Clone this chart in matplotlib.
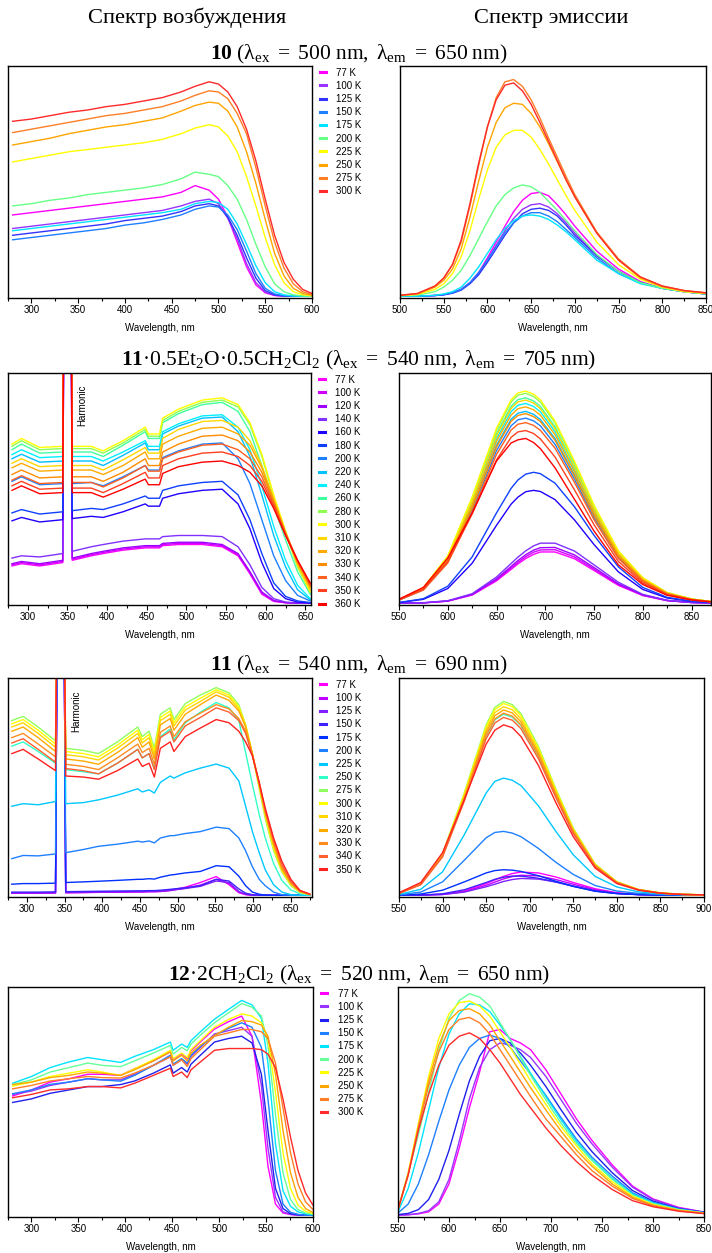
import matplotlib
matplotlib.use('Agg')
import matplotlib.pyplot as plt
from matplotlib.lines import Line2D

plt.rcParams['font.family'] = ['Liberation Sans', 'DejaVu Sans']
plt.rcParams['mathtext.fontset'] = 'custom'
plt.rcParams['mathtext.rm'] = 'Liberation Serif'
plt.rcParams['mathtext.it'] = 'Liberation Serif:italic'
plt.rcParams['mathtext.bf'] = 'Liberation Serif:bold'

# ---------------- labels ----------------
T10 = ['77 K', '100 K', '125 K', '150 K', '175 K', '200 K', '225 K', '250 K', '275 K', '300 K']
T11b = ['77 K', '100 K', '120 K', '140 K', '160 K', '180 K', '200 K', '220 K', '240 K', '260 K',
        '280 K', '300 K', '310 K', '320 K', '330 K', '340 K', '350 K', '360 K']
T11 = ['77 K', '100 K', '125 K', '150 K', '175 K', '200 K', '225 K', '250 K', '275 K', '300 K',
       '310 K', '320 K', '330 K', '340 K', '350 K']
T12 = ['77 K', '100 K', '125 K', '150 K', '175 K', '200 K', '225 K', '250 K', '275 K', '300 K']

titles = [r"$\mathbf{10}\ \mathrm{(λ_{ex}\ {=}\ 500\ nm,\ λ_{em}\ {=}\ 650\ nm)}$",
          r"$\mathbf{11}\mathrm{·0.5Et_2O·0.5CH_2Cl_2\ (λ_{ex}\ {=}\ 540\ nm,\ λ_{em}\ {=}\ 705\ nm)}$",
          r"$\mathbf{11}\ \mathrm{(λ_{ex}\ {=}\ 540\ nm,\ λ_{em}\ {=}\ 690\ nm)}$",
          r"$\mathbf{12}\mathrm{·2CH_2Cl_2\ (λ_{ex}\ {=}\ 520\ nm,\ λ_{em}\ {=}\ 650\ nm)}$"]

# ---------------- row 1: compound 10 ----------------
ex10_wl = [280, 300, 320, 340, 360, 380, 400, 420, 440, 460, 475, 490, 500, 510, 520, 530, 540, 550, 560, 570, 580, 590, 600]
ex10 = [
    [36, 37, 38, 39, 40, 41, 42, 43, 44, 46, 49, 47, 43, 35, 24, 13, 5, 1.5, 0.3, 0, 0, 0, 0],
    [30, 31, 32, 33, 34, 35, 36, 37, 38, 40, 42, 43, 41, 34.5, 25.5, 14.5, 6, 1.8, 0.4, 0, 0, 0, 0],
    [27, 28, 29, 30, 31, 32, 33.5, 34.5, 35.5, 37.5, 40, 41, 40, 35, 27, 17, 8, 2.5, 0.6, 0.1, 0, 0, 0],
    [25, 26, 27, 28, 29, 30, 31.5, 32.5, 34, 36, 38.5, 40, 39.5, 36, 29.5, 20, 10, 3.5, 1, 0.2, 0, 0, 0],
    [29, 30, 31, 32, 33, 34, 35, 36, 37, 38.5, 41, 42, 41.5, 38.5, 32, 23, 13.5, 6, 2, 0.6, 0.1, 0, 0],
    [40, 41, 42.5, 43.5, 45, 46, 47, 48, 49.5, 52, 55, 54, 53, 49, 43, 34, 23, 13, 5.5, 2, 0.6, 0.1, 0],
    [59.5, 61, 62.5, 64, 65, 66, 67, 68, 69.5, 72, 74.5, 76, 75, 71, 64, 53, 40, 26, 14, 6, 2, 0.6, 0.2],
    [67, 68.5, 70, 72, 73.5, 75, 76, 77.5, 79, 82, 84.5, 86, 85.5, 82, 75, 64, 50, 34, 19, 9, 3.5, 1.2, 0.4],
    [72.5, 74, 75.5, 77, 78.5, 80, 81, 82.5, 84, 86.5, 89, 91, 90.5, 87.5, 81, 72, 57, 40, 24, 12.5, 5.5, 2, 0.7],
    [77.5, 78.5, 80, 81.5, 82.5, 84, 85, 86.5, 88, 90.5, 93, 95, 94, 90.5, 84, 74, 60, 43, 27, 15, 7.5, 3, 1.2],
]
em10_wl = [500, 520, 540, 550, 560, 570, 580, 590, 600, 610, 620, 630, 640, 650, 660, 670, 680, 690, 700,
           725, 750, 775, 800, 825, 850]
em10 = [
    [0, 0, 0.3, 0.7, 1.5, 3, 6, 10.5, 17, 24, 31, 37.5, 42.5, 45.5, 46, 44.5, 40.5, 36, 31, 20, 12, 6.5, 3.5, 2, 1],
    [0, 0, 0.3, 0.7, 1.5, 3, 6, 10, 16, 22.5, 29, 34.5, 38.5, 40.5, 41, 39.5, 36.5, 32.5, 28, 18, 11, 6, 3.5, 2, 1],
    [0, 0, 0.3, 0.6, 1.3, 2.7, 5.5, 9.5, 15, 21, 27, 32.5, 36.5, 38.5, 39, 38, 35.5, 31.5, 27, 18, 11, 6, 3.5, 2, 1],
    [0, 0, 0.3, 0.7, 1.5, 3, 6, 10.5, 16, 22, 28, 32.5, 35.5, 37, 37, 35.5, 33, 29.5, 26, 17, 10, 6, 3.5, 2, 1],
    [0, 0, 0.4, 1, 2, 4, 8, 13, 19, 25, 30, 33.5, 35.5, 36, 35.5, 34, 31.5, 28.5, 25, 16, 10, 5.5, 3.5, 2, 1],
    [0.2, 0.5, 2, 4, 7, 11.5, 18, 25.5, 33, 40, 45, 48, 49.3, 48.5, 46, 42, 38, 33.5, 29, 18.5, 11, 6, 3.5, 2, 1],
    [0.3, 0.8, 3, 5.5, 10, 17.5, 29, 43, 56, 66, 71.5, 73.5, 73.5, 70.5, 65, 58.5, 51.5, 44.5, 38, 24, 14, 7.5, 4, 2, 1.2],
    [0.3, 1, 4, 7, 12, 21, 35, 51, 66, 77, 83.5, 85.5, 85, 81, 75, 67.5, 59.5, 51.5, 44, 28, 16, 8, 4.2, 2.3, 1.3],
    [0.4, 1.2, 4.5, 8, 14, 24, 40, 58, 75, 88, 95, 96, 93, 87, 79, 70, 61.5, 53, 45, 28.5, 16.5, 8.5, 4.5, 2.5, 1.5],
    [0.4, 1.2, 4.5, 8, 14, 25, 41, 59, 75, 87, 93.5, 94.5, 91, 85, 77, 68.5, 60, 51.5, 44, 28, 16, 8.5, 4.5, 2.5, 1.5],
]

# ---------------- row 2: 11*0.5Et2O*0.5CH2Cl2 ----------------
ex11b_wl = [280, 292, 315, 344, 345.5, 354.5, 356, 380, 395, 420, 448, 452, 466, 470, 490, 520, 545,
            565, 580, 595, 610, 625, 640, 656]
ex11b = [
    [16.5, 17.5, 16.5, 18, 150, 150, 19, 21, 22, 23.5, 24.5, 24.5, 24.5, 25.5, 26, 26, 25, 21, 13, 4, 0.8, 0.2, 0, 0],
    [17, 18, 17, 18.5, 150, 150, 19.5, 21.5, 22.5, 24, 25, 25, 25, 26, 26.5, 26.5, 25.5, 21.5, 13.5, 4.5, 1, 0.2, 0, 0],
    [17.5, 18.5, 17.5, 19, 150, 150, 20, 22, 23, 24.5, 25.5, 25.5, 25.5, 26.5, 27, 27, 26, 22, 14, 5, 1.2, 0.3, 0, 0],
    [20, 21, 20.5, 22, 150, 150, 23, 25, 26, 27.5, 28.5, 28.5, 28.5, 29.5, 30, 30, 29.5, 25, 17, 7, 2, 0.5, 0.1, 0],
    [36.5, 38, 36, 37, 150, 150, 37.5, 38.5, 38, 40.5, 44, 43, 43, 46.5, 48.5, 50, 50.5, 44, 33, 18, 6.5, 2, 0.5, 0.1],
    [40, 41.5, 39.5, 40.5, 150, 150, 41, 42, 41.5, 44, 47.5, 46.5, 46.5, 50, 52, 53.5, 54, 48, 37, 22, 9, 3, 1, 0.3],
    [54, 56, 52.5, 53, 150, 150, 53, 53.5, 52, 56, 61, 59, 59, 64.5, 67.5, 70.5, 71, 64, 53, 37, 21, 10, 3.5, 1],
    [64, 66, 62.5, 63, 150, 150, 63, 63, 61, 65.5, 71, 68, 68, 75, 78.5, 82, 82.5, 76, 65, 48, 30, 16, 6, 1.5],
    [65.8, 68, 64.5, 65, 150, 150, 65, 65, 63, 67, 72, 69.5, 69.5, 76, 79.5, 83, 83.5, 78, 68, 52, 34, 19, 8, 2],
    [68, 70.5, 66.5, 67, 150, 150, 67, 67, 65, 70, 76, 73, 73, 80, 84, 88, 89, 85, 76, 61, 43, 28, 14, 4],
    [69.5, 72, 68, 68.5, 150, 150, 68.5, 68.5, 66.5, 71, 77, 74, 74, 81, 85, 89, 90, 87, 79, 65, 47, 31, 16, 5],
    [70.5, 73, 69, 69.5, 150, 150, 69.5, 69.5, 67.5, 72, 78, 75, 75, 82, 86, 90, 91, 88, 80, 66, 48, 32, 17, 5],
    [62, 64, 60.5, 61, 150, 150, 61, 61, 59, 63.5, 69, 66.5, 66.5, 73, 77, 80.5, 81, 78, 72, 61, 46, 31, 17, 6],
    [60, 62, 58.5, 59, 150, 150, 59, 59, 57, 61, 67, 64, 64, 70.5, 74, 77.5, 78, 75, 70, 60, 46, 31, 18, 7],
    [57, 59, 55.5, 56, 150, 150, 56, 56, 54, 58, 64, 61, 61, 67, 70.5, 74, 74.5, 72, 67, 58, 45, 31, 18, 7.5],
    [54.5, 56.5, 53, 53.5, 150, 150, 53.5, 53.5, 51.5, 55.5, 61, 58.5, 58.5, 64, 67, 70, 70.5, 68, 64, 56, 44, 31, 19, 8],
    [52, 54, 50.5, 51, 150, 150, 51, 51, 49, 53, 58, 55.5, 55.5, 61, 64, 66.5, 67, 65, 61, 54, 43, 30, 19, 8.5],
    [50, 52, 48.5, 49, 150, 150, 49, 49, 47, 50.5, 55, 52.5, 52.5, 57.5, 60.5, 62.5, 63, 61, 58, 52, 42, 30, 19, 9],
]
em11b_wl = [550, 575, 600, 625, 650, 665, 672, 680, 688, 695, 710, 730, 750, 775, 800, 825, 850, 870]
em11b = [
    [0, 0.14, 0.9, 3.6, 9.9, 15, 17.4, 19.8, 21.6, 22.7, 22.7, 19.7, 14.5, 7.9, 3.4, 1.1, 0.3, 0.1],
    [0, 0.14, 0.9, 3.8, 10.3, 15.6, 18.1, 20.6, 22.6, 23.6, 23.7, 20.5, 15.1, 8.3, 3.5, 1.2, 0.3, 0.1],
    [0, 0.15, 1, 3.9, 10.8, 16.3, 18.9, 21.5, 23.5, 24.6, 24.7, 21.4, 15.8, 8.6, 3.7, 1.2, 0.3, 0.1],
    [0, 0.2, 1.1, 4.2, 11.6, 17.6, 20.4, 23.2, 25.4, 26.6, 26.6, 23.1, 17, 9.3, 3.9, 1.3, 0.3, 0.1],
    [0.3, 1.7, 6.5, 17.7, 34.5, 43.9, 47, 49.4, 50, 49.5, 45.9, 36.9, 26, 13.9, 6.1, 2.3, 0.8, 0.3],
    [0.3, 2, 7.5, 20.5, 40, 50.9, 54.6, 57.2, 58, 57.4, 53.2, 42.7, 30.1, 16.1, 7, 2.6, 0.9, 0.3],
    [1.4, 6, 18.3, 41, 67.6, 78.6, 81.3, 82, 80.8, 78.6, 70.4, 54.9, 38, 20.3, 9.8, 4.1, 1.6, 0.7],
    [1.4, 6.2, 19, 42.5, 70, 81.5, 84.2, 85, 83.7, 81.4, 73, 56.9, 39.4, 21, 10.2, 4.3, 1.7, 0.7],
    [1.5, 6.5, 19.7, 44.3, 72.9, 84.9, 87.7, 88.5, 87.2, 84.8, 76, 59.2, 41, 21.9, 10.6, 4.4, 1.8, 0.7],
    [1.5, 6.6, 20.3, 45.5, 75, 87.3, 90.2, 91, 89.6, 87.2, 78.2, 60.9, 42.1, 22.5, 10.9, 4.6, 1.8, 0.7],
    [1.6, 6.8, 20.7, 46.5, 76.6, 89.2, 92.2, 93, 91.6, 89.1, 79.9, 62.2, 43.1, 23, 11.2, 4.7, 1.9, 0.7],
    [1.6, 6.9, 21, 47, 77.5, 90.1, 93.2, 94, 92.6, 90.1, 80.7, 62.9, 43.5, 23.2, 11.3, 4.7, 1.9, 0.8],
    [1.5, 6.6, 20.1, 45, 74.2, 86.3, 89.2, 90, 88.7, 86.2, 77.3, 60.2, 41.7, 22.2, 10.8, 4.5, 1.8, 0.7],
    [1.5, 6.4, 19.4, 43.5, 71.7, 83.4, 86.2, 87, 85.7, 83.3, 74.7, 58.2, 40.3, 21.5, 10.4, 4.4, 1.7, 0.7],
    [1.4, 6.1, 18.7, 42, 69.2, 80.6, 83.2, 84, 82.7, 80.5, 72.2, 56.2, 38.9, 20.7, 10.1, 4.2, 1.7, 0.7],
    [1.4, 5.8, 17.8, 40, 65.9, 76.7, 79.3, 80, 78.8, 76.6, 68.7, 53.5, 37, 19.8, 9.6, 4, 1.6, 0.6],
    [1.5, 6.2, 18.5, 39.5, 63.5, 73.5, 75.9, 76.5, 75.2, 72.8, 64.8, 50.2, 34.8, 18.5, 9, 3.8, 1.5, 0.6],
    [1.8, 7, 20, 40, 63, 71, 72.4, 73, 71.2, 68.5, 60, 46, 32, 17, 8.3, 3.5, 1.4, 0.6],
]

# ---------------- row 3: compound 11 ----------------
ex11_wl = [280, 295, 315, 338, 340.5, 349, 351.5, 375, 395, 420, 447, 453, 462, 469, 477, 490, 495, 510, 530, 551,
           568, 581, 590, 599, 608, 616, 627, 638, 650, 662, 675]
ex11 = [
    [1, 1, 1, 1.1, 150, 150, 1.2, 1.3, 1.4, 1.5, 1.6, 1.6, 1.7, 1.7, 1.8, 2.3, 2.7, 3.8, 6, 8.8, 5, 1.2, 0.3, 0, 0, 0, 0, 0, 0, 0, 0],
    [1, 1, 1, 1.1, 150, 150, 1.2, 1.3, 1.4, 1.5, 1.6, 1.6, 1.7, 1.7, 1.8, 2.2, 2.5, 3.3, 4.8, 7.5, 5.5, 1.5, 0.4, 0, 0, 0, 0, 0, 0, 0, 0],
    [1.2, 1.2, 1.2, 1.3, 150, 150, 1.4, 1.5, 1.6, 1.7, 1.8, 1.8, 1.9, 1.9, 2, 2.4, 2.6, 3.2, 4.2, 6.7, 6, 1.8, 0.5, 0.1, 0, 0, 0, 0, 0, 0, 0],
    [1.5, 1.5, 1.5, 1.6, 150, 150, 1.7, 1.8, 1.9, 2, 2.1, 2.1, 2.2, 2.2, 2.4, 2.8, 3, 3.5, 4.5, 7.5, 6.7, 3, 1, 0.3, 0, 0, 0, 0, 0, 0, 0],
    [5.2, 5.5, 5.5, 5.7, 150, 150, 6, 6.3, 6.6, 7, 7.5, 7.5, 7.8, 7.6, 8.5, 9.5, 9.7, 10.5, 11.2, 13.9, 13.4, 9, 4.5, 1.5, 0.5, 0.1, 0, 0, 0, 0, 0],
    [17.2, 18.7, 18.5, 19.4, 150, 150, 20, 21.5, 23, 24, 25.4, 25, 25.5, 24.6, 26.9, 28, 28, 29, 29.9, 32, 31.3, 26.9, 20.9, 13.4, 7.5, 4.5, 1.5, 0.3, 0, 0, 0],
    [41.8, 43, 42.5, 44, 150, 150, 43, 43.5, 44.8, 47, 50, 48.5, 49.5, 48, 53, 56, 55, 57.5, 59.7, 61.6, 59.7, 53.7, 41.8, 29.9, 20, 12, 5, 1.5, 0.3, 0, 0],
    [70, 72, 67.5, 62, 150, 150, 59, 58, 57, 62, 68.5, 64.5, 66.5, 59.5, 74.5, 78, 73, 81, 86, 90.5, 88, 82, 67, 52, 38, 27, 15, 7, 2.5, 0.7, 0.2],
    [82, 84, 79, 72.5, 150, 150, 69, 68, 66.5, 72, 79, 74.5, 77, 69, 85, 88, 82.5, 90, 94, 97.5, 95, 89.5, 80, 66, 50, 36, 21, 11, 4.5, 1.3, 0.3],
    [80.5, 82.5, 77.5, 71, 150, 150, 67.5, 66.5, 65, 70.5, 77.5, 73, 75.5, 67.5, 83.5, 86.5, 81, 88.5, 92.5, 96.5, 94, 88.5, 80, 66.5, 51, 37, 22, 11.5, 5, 1.5, 0.4],
    [79, 81, 76, 69.5, 150, 150, 66, 65, 63.5, 69, 76, 71.5, 74, 66, 82, 85, 79.5, 87, 91, 95.5, 93, 87.5, 79.5, 66.5, 51.5, 38, 23, 12, 5.3, 1.6, 0.4],
    [77, 79, 74, 67.5, 150, 150, 64, 63, 61.5, 67, 74, 69.5, 72, 64, 80, 83, 77.5, 85, 89.5, 94, 91.5, 86.5, 79, 66.5, 52, 38.5, 24, 12.5, 5.6, 1.7, 0.4],
    [74, 76, 71, 65, 150, 150, 61.5, 60.5, 59, 64.5, 71, 67, 69, 61.5, 76.5, 79.5, 74.5, 81.5, 85.5, 89.5, 87.5, 83, 77, 66, 52.5, 39.5, 25, 13.5, 6, 1.9, 0.5],
    [71.5, 73.5, 68.5, 62.5, 150, 150, 59.5, 58.5, 57, 62, 68.5, 64.5, 66.5, 59, 74, 77, 72, 79.5, 83.5, 88, 86, 82, 76, 65.5, 53, 40, 26, 14.5, 6.5, 2.1, 0.5],
    [66.5, 68.5, 64, 58.5, 150, 150, 56, 55.5, 54.5, 58.5, 64, 60.5, 62, 55.5, 69, 72, 67.5, 74.5, 78.5, 82.5, 81, 77, 72, 65.5, 53, 41, 27, 16, 7.5, 2.3, 0.6],
]
em11_wl = [550, 575, 600, 625, 650, 660, 670, 680, 690, 710, 730, 750, 775, 800, 825, 850, 875, 900]
em11 = [
    [0, 0.08, 0.5, 2, 5.5, 7.2, 8.9, 10.2, 10.9, 10.5, 8.6, 6, 3.1, 1.2, 0.4, 0.1, 0, 0],
    [0, 0.07, 0.4, 1.7, 4.7, 6.2, 7.7, 8.8, 9.4, 9.1, 7.4, 5.2, 2.6, 1, 0.3, 0.1, 0, 0],
    [0, 0.06, 0.35, 1.5, 4, 5.2, 6.5, 7.4, 7.9, 7.6, 6.3, 4.4, 2.2, 0.9, 0.3, 0.1, 0, 0],
    [0, 0.1, 0.7, 2.6, 6, 7.5, 8.5, 9, 9, 8, 6.2, 4.2, 2, 0.8, 0.3, 0.1, 0, 0],
    [0.1, 0.6, 2.4, 6.3, 10.5, 11.6, 12, 11.8, 11.2, 9.2, 6.6, 4.2, 1.9, 0.8, 0.4, 0.15, 0.05, 0],
    [0.2, 1.5, 6.3, 16.5, 27, 29.5, 30, 29.2, 27.5, 22, 15.5, 9.8, 4.6, 2, 0.9, 0.4, 0.15, 0.05],
    [0.4, 2.8, 11, 28.5, 48, 53.5, 55, 54, 51.5, 42, 30, 19, 8.9, 3.9, 1.6, 0.7, 0.3, 0.1],
    [0.9, 5.1, 18.4, 45, 74.8, 82.4, 85, 83.6, 79.6, 65.3, 46.8, 29.5, 13.8, 6, 2.6, 1, 0.4, 0.2],
    [1, 5.5, 19.7, 48.2, 80, 88.2, 91, 89.5, 85.2, 69.9, 50, 31.6, 14.7, 6.4, 2.7, 1.1, 0.5, 0.2],
    [1, 5.4, 19.4, 47.7, 79.2, 87.2, 90, 88.6, 84.2, 69.1, 49.5, 31.2, 14.6, 6.3, 2.7, 1.1, 0.5, 0.2],
    [1, 5.3, 19.1, 46.9, 77.9, 85.8, 88.5, 87.1, 82.8, 68, 48.7, 30.7, 14.3, 6.2, 2.7, 1.1, 0.4, 0.2],
    [1, 5.2, 18.8, 46.1, 76.6, 84.3, 87, 85.6, 81.4, 66.8, 47.9, 30.2, 14.1, 6.1, 2.6, 1, 0.4, 0.2],
    [0.9, 5.1, 18.5, 45.3, 75.2, 82.8, 85.5, 84.1, 80, 65.7, 47, 29.7, 13.9, 6, 2.6, 1, 0.4, 0.2],
    [0.9, 5, 18, 44.3, 73.5, 80.9, 83.5, 82.2, 78.2, 64.1, 45.9, 29, 13.5, 5.8, 2.5, 1, 0.4, 0.2],
    [1.2, 6, 20, 45, 71, 77.5, 80, 78.7, 74.5, 61, 43.5, 27.5, 12.8, 5.5, 2.4, 1, 0.4, 0.2],
]

# ---------------- row 4: 12*2CH2Cl2 ----------------
ex12_wl = [280, 300, 320, 340, 360, 375, 395, 410, 430, 448, 451, 460, 466, 470, 480, 495, 510, 524,
           535, 545, 552, 560, 568, 576, 584, 592, 600]
ex12 = [
    [53.3, 56, 59.5, 61, 63, 63, 62.5, 65.5, 69, 73, 69.5, 72, 70, 73.5, 77.5, 83.2, 86.5, 89, 80, 50, 22, 5, 1, 0.3, 0, 0, 0],
    [54, 55.5, 58, 59.5, 61, 60.5, 60.5, 63, 67, 70.8, 67, 69.5, 67.5, 71, 75, 81, 82.5, 84, 80, 58, 30, 8, 1.5, 0.4, 0, 0, 0],
    [50.4, 52, 54.5, 56, 57.5, 57.5, 58.4, 60, 63.5, 67.2, 63.5, 66, 64, 67.5, 71.5, 77.4, 79, 80, 77, 63, 38, 12, 3, 0.7, 0.2, 0, 0],
    [54.3, 56, 58.5, 59.5, 61, 60.5, 59.9, 62.5, 67, 71.5, 67.5, 70, 68, 71.5, 75.5, 80.3, 83.5, 86, 84, 75, 52, 20, 5, 1.3, 0.4, 0, 0],
    [59, 62, 66, 68.5, 70.5, 69.5, 68.3, 71, 74, 77.4, 73.7, 76.5, 75, 78, 82, 87.6, 92, 96, 94, 88, 68, 32, 11, 4, 1.5, 0.6, 0.2],
    [58.4, 60.5, 64, 66, 68, 67, 66.4, 69, 72.5, 75.9, 72, 75, 73.5, 76.5, 80.5, 86, 90.5, 94.6, 93, 89, 76, 45, 19, 7, 2.5, 1, 0.4],
    [57.7, 59.5, 62, 63.5, 65, 64, 62.5, 65.5, 69.5, 73.7, 70, 72.5, 70.5, 74, 78, 84, 87.5, 90, 89, 86, 79, 55, 28, 12, 4.5, 1.8, 0.7],
    [58.4, 59.5, 61.5, 62.5, 64, 63.5, 62.5, 65, 69, 73, 69, 71.5, 69, 72.5, 76, 80.3, 84, 87, 86.5, 85, 80, 63, 38, 19, 8, 3, 1.2],
    [56.5, 58, 60, 61, 62, 61.5, 61.3, 63.5, 67, 70.8, 67, 69.5, 66.5, 70, 74, 80, 81.5, 83, 83, 82, 79, 68, 48, 28, 14, 6, 2.5],
    [52.5, 54, 56, 56.5, 57.5, 57.5, 56.9, 59, 62.5, 65.7, 62, 64, 61.5, 65, 68.5, 73.7, 74.5, 74.5, 74.5, 74, 72, 66, 52, 35, 20, 10, 4.5],
]
em12_wl = [550, 560, 570, 580, 590, 600, 610, 620, 630, 640, 650, 660, 670, 680, 695, 710, 725, 740, 760, 780, 800, 825, 850]
em12 = [
    [0, 0.2, 0.6, 1.5, 5, 14, 30, 48, 64, 82, 83, 79, 77, 74, 65, 54, 43, 33.5, 22.5, 13, 7.3, 3.5, 1.4],
    [0, 0.2, 0.8, 2, 6, 16, 33, 52, 66, 74, 77, 76, 74, 70.5, 62, 51.5, 41, 32, 21.5, 12.5, 7, 3.3, 1.4],
    [0.3, 0.8, 2.5, 7, 16, 29, 45, 60, 71, 78, 79, 77, 72.5, 67, 57.5, 47, 37, 28.5, 19, 11, 6.3, 3, 1.3],
    [1, 5, 14, 27, 42, 56, 67, 75, 79, 80.5, 79, 75, 69, 63, 53.5, 43.5, 34, 26, 17.5, 10, 5.8, 2.8, 1.2],
    [1.5, 12, 28, 47, 66, 81, 90, 94.5, 94, 91, 85, 78.5, 71, 63.5, 53, 42.5, 33, 25, 16.5, 9.5, 5.5, 2.6, 1.1],
    [2.5, 19, 36, 55, 74, 88, 96, 99, 97.5, 93.5, 86, 78.5, 70.5, 62.5, 51.5, 41, 32, 24.5, 16, 9, 5.2, 2.5, 1],
    [2.5, 19, 41, 62, 79, 90, 95, 95.7, 93.5, 89, 82, 75, 67.5, 60, 49.5, 39.5, 31, 23, 15, 8.5, 4.8, 2.3, 1],
    [2.5, 18.5, 40, 60, 76, 87, 91.5, 92.3, 90, 85, 78, 71, 64, 57, 47, 37.5, 29, 22, 14, 8, 4.5, 2.2, 0.9],
    [2.5, 18, 39, 58, 73, 83, 87.5, 88.4, 86, 81, 74, 67, 60, 53, 43, 35, 27, 20, 13, 7.5, 4.2, 2, 0.8],
    [2.5, 18, 38, 54, 67, 76, 80, 81.5, 79, 74, 68, 61, 54, 48, 39, 31, 24, 18, 11.5, 6.5, 3.8, 1.8, 0.7],
]

# ---------------- styles ----------------
col10 = ['#FF00FF', '#9933FF', '#3333FF', '#1E7FFF', '#00E5FF', '#66FF88', '#FFFF00', '#FFA500', '#FF7F27', '#FF2A2A']
col11b = ['#FF00FF', '#D000FF', '#A000FF', '#8030FF', '#2000FF', '#1040FF', '#1E80FF', '#00C0FF', '#00F0FF',
          '#40FFA0', '#90FF50', '#FFFF00', '#FFD700', '#FFAA00', '#FF8C00', '#FF6020', '#FF4020', '#FF0000']
col11 = ['#FF00FF', '#C000FF', '#8020FF', '#4020FF', '#0030FF', '#1E80FF', '#00C8FF', '#30FFC8', '#90FF60',
         '#FFFF00', '#FFD700', '#FFAA00', '#FF8C20', '#FF6030', '#FF2020']
col12 = ['#FF00FF', '#9933FF', '#2020EE', '#1E7FFF', '#00E5FF', '#66FF99', '#FFFF00', '#FFA500', '#FF7F27', '#FF2A2A']

W, H = 712, 1253
fig = plt.figure(figsize=(W / 100, H / 100), dpi=100)


def add_ax(x0, y0, x1, y1):
    return fig.add_axes([x0 / W, 1 - y1 / H, (x1 - x0) / W, (y1 - y0) / H])


def draw(ax, wl, vals, colors, xlim, major, minor):
    for v, c in zip(vals, colors):
        ax.plot(wl, v, color=c, lw=1.0, solid_joinstyle='round')
    ax.set_xlim(*xlim)
    ax.set_ylim(-0.8, 102)
    ax.set_yticks([])
    ax.set_xticks(major)
    ax.set_xticks(minor, minor=True)
    ax.tick_params(axis='x', which='major', direction='out', length=3.5, width=0.8, labelsize=7, pad=1.5)
    ax.tick_params(axis='x', which='minor', direction='out', length=2, width=0.8)
    for s in ax.spines.values():
        s.set_linewidth(1.0)
    ax.set_xlabel('Wavelength, nm', fontsize=7, labelpad=6)


def legend(ax, labels, colors):
    handles = [Line2D([0], [0], color=c, lw=2.2) for c in colors]
    ax.legend(handles, labels, loc='upper left', bbox_to_anchor=(1.015, 1.01), frameon=False,
              fontsize=7, handlelength=0.55, handletextpad=1.1, labelspacing=0.33,
              borderaxespad=0.2, borderpad=0.2)


rows = [
    dict(ly=(66, 298), L=(8, 312), R=(400, 706), ex=(ex10_wl, ex10), em=(em10_wl, em10), col=col10, T=T10,
         xl=(280, 600), xr=(500, 850), title_y=54),
    dict(ly=(373, 605), L=(8, 311), R=(399, 711), ex=(ex11b_wl, ex11b), em=(em11b_wl, em11b), col=col11b, T=T11b,
         xl=(280, 657), xr=(550, 870), title_y=360),
    dict(ly=(678, 897), L=(8, 312), R=(399, 704), ex=(ex11_wl, ex11), em=(em11_wl, em11), col=col11, T=T11,
         xl=(282, 678), xr=(550, 900), title_y=665),
    dict(ly=(987, 1217), L=(8, 313), R=(398, 704), ex=(ex12_wl, ex12), em=(em12_wl, em12), col=col12, T=T12,
         xl=(280, 600), xr=(550, 850), title_y=975),
]

for i, r in enumerate(rows):
    y0, y1 = r['ly']
    axL = add_ax(r['L'][0], y0, r['L'][1], y1)
    axR = add_ax(r['R'][0], y0, r['R'][1], y1)
    lmaj = list(range(300, int(r['xl'][1]) + 1, 50))
    lmin = list(range(275, int(r['xl'][1]) + 1, 25))
    rmaj = list(range(int(r['xr'][0]), int(r['xr'][1]) + 1, 50))
    rmin = list(range(int(r['xr'][0]), int(r['xr'][1]) + 1, 25))
    draw(axL, r['ex'][0], r['ex'][1], r['col'], r['xl'], lmaj, lmin)
    draw(axR, r['em'][0], r['em'][1], r['col'], r['xr'], rmaj, rmin)
    legend(axL, r['T'], r['col'])
    fig.text(359 / W, 1 - r['title_y'] / H, titles[i], fontsize=15.5, ha='center', va='center')

# "Harmonic" annotations
fig.axes[2].text(369, 97, 'Harmonic', rotation=90, va='top', ha='center', fontsize=7)
fig.axes[4].text(365, 96, 'Harmonic', rotation=90, va='top', ha='center', fontsize=7)

# column headers
fig.text(187 / W, 1 - 18 / H, 'Спектр возбуждения', family='Liberation Serif', fontsize=16.2,
         ha='center', va='center')
fig.text(551 / W, 1 - 18 / H, 'Спектр эмиссии', family='Liberation Serif', fontsize=16.2,
         ha='center', va='center')

fig.savefig('out.png', dpi=100)
